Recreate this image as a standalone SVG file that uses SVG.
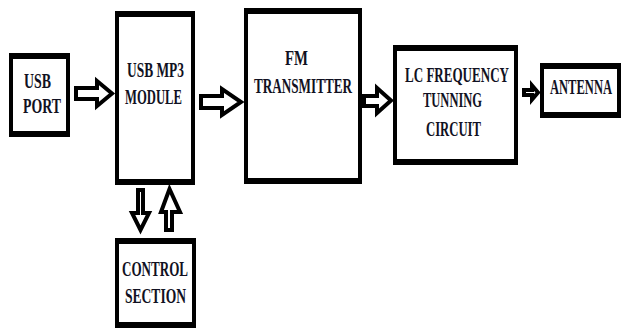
<svg xmlns="http://www.w3.org/2000/svg" width="621" height="330" viewBox="0 0 621 330">
<style>
.box{fill:#fff;stroke:#000;stroke-width:4}
.band{fill:#000}
.lbl{font-family:"Liberation Serif","Times New Roman",serif;font-weight:bold;font-size:21px;fill:#111122}
.arr{fill:#fff;stroke:#000;stroke-width:4;stroke-linejoin:miter;stroke-miterlimit:10}
</style>
<rect width="621" height="330" fill="#fff"/>
<g id="usb-port">
<rect class="box" x="11" y="55" width="57" height="80"/>
<path class="band" d="M9,53h61v6h-61z M9,131h61v6h-61z"/>
<text class="lbl" transform="translate(24,88) scale(0.62,1)" textLength="43.5" lengthAdjust="spacingAndGlyphs">USB</text>
<text class="lbl" transform="translate(23,113) scale(0.62,1)" textLength="61.3" lengthAdjust="spacingAndGlyphs">PORT</text>
</g>
<g id="usb-mp3-module">
<rect class="box" x="117" y="13" width="76" height="170"/>
<path class="band" d="M115,11h80v6h-80z M115,179h80v6h-80z"/>
<text class="lbl" transform="translate(127,77) scale(0.62,1)" textLength="91.9" lengthAdjust="spacingAndGlyphs">USB MP3</text>
<text class="lbl" transform="translate(125,104) scale(0.62,1)" textLength="91.9" lengthAdjust="spacingAndGlyphs">MODULE</text>
</g>
<g id="fm-transmitter">
<rect class="box" x="246" y="10" width="114" height="172"/>
<path class="band" d="M244,8h118v6h-118z M244,178h118v6h-118z"/>
<text class="lbl" transform="translate(285,65) scale(0.62,1)" textLength="37.1" lengthAdjust="spacingAndGlyphs">FM</text>
<text class="lbl" transform="translate(254,93) scale(0.62,1)" textLength="158.1" lengthAdjust="spacingAndGlyphs">TRANSMITTER</text>
</g>
<g id="lc-frequency-tunning-circuit">
<rect class="box" x="395" y="47" width="121" height="116"/>
<path class="band" d="M393,45h125v6h-125z M393,159h125v6h-125z"/>
<text class="lbl" transform="translate(405,82) scale(0.62,1)" textLength="167.7" lengthAdjust="spacingAndGlyphs">LC FREQUENCY</text>
<text class="lbl" transform="translate(423,107) scale(0.62,1)" textLength="95.2" lengthAdjust="spacingAndGlyphs">TUNNING</text>
<text class="lbl" transform="translate(426,136) scale(0.62,1)" textLength="88.7" lengthAdjust="spacingAndGlyphs">CIRCUIT</text>
</g>
<g id="antenna">
<rect class="box" x="542" y="65" width="77" height="51"/>
<path class="band" d="M540,63h81v6h-81z M540,112h81v6h-81z"/>
<text class="lbl" transform="translate(550,94) scale(0.62,1)" textLength="100" lengthAdjust="spacingAndGlyphs">ANTENNA</text>
</g>
<g id="control-section">
<rect class="box" x="117" y="240" width="77" height="86"/>
<path class="band" d="M115,238h81v6h-81z M115,322h81v6h-81z"/>
<text class="lbl" transform="translate(122,276) scale(0.62,1)" textLength="106.5" lengthAdjust="spacingAndGlyphs">CONTROL</text>
<text class="lbl" transform="translate(125,303) scale(0.62,1)" textLength="98.4" lengthAdjust="spacingAndGlyphs">SECTION</text>
</g>
<g id="connectors">
<polygon class="arr" points="76,88 97,88 97,81 112,93.5 97,106 97,99 76,99"/>
<polygon class="arr" points="201,96 222,96 222,89 241,102 222,115 222,108 201,108"/>
<polygon class="arr" points="364,96 377,96 377,88 391,100.5 377,113 377,106 364,106"/>
<polygon class="arr" points="524,90 532,90 532,85.5 538,92.5 532,99.5 532,95 524,95"/>
<polygon class="arr" points="138,190 143,190 143,213 149,213 140.5,230 132,213 138,213"/>
<polygon class="arr" points="166,230 166,212 161,212 169.5,189 180,212 172,212 172,230"/>
</g>
</svg>
